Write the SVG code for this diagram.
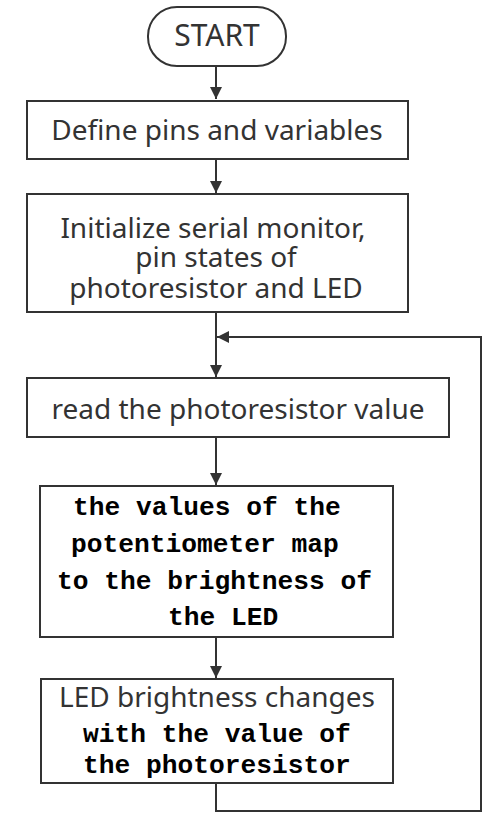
<svg xmlns="http://www.w3.org/2000/svg" width="498" height="826" viewBox="0 0 498 826">
<style>
.box{fill:#fff;stroke:#333;stroke-width:2}
.sans{font-family:"Noto Sans","Open Sans",sans-serif;font-size:28px;fill:#333}
.mono{font-family:"Liberation Mono","DejaVu Sans Mono",monospace;font-size:26.25px;font-weight:bold;fill:#000}
.c{text-anchor:middle}
.edge{fill:none;stroke:#333;stroke-width:2}
</style>
<defs>
<marker id="arr" viewBox="0 0 10 10" refX="10" refY="5" markerWidth="6" markerHeight="6" markerUnits="strokeWidth" orient="auto">
<path d="M0,0 L10,5 L0,10 z" fill="#333"/>
</marker>
</defs>
<rect width="498" height="826" fill="#fff"/>
<g id="connectors">
<path class="edge" d="M216,66 V99" marker-end="url(#arr)"/>
<path class="edge" d="M216,159 V193" marker-end="url(#arr)"/>
<path class="edge" d="M216,312 V377" marker-end="url(#arr)"/>
<path class="edge" d="M216,437 V485" marker-end="url(#arr)"/>
<path class="edge" d="M216,637 V678" marker-end="url(#arr)"/>
<path class="edge" d="M216,783 V811 H481 V337 H217" marker-end="url(#arr)"/>
</g>
<g id="start">
<rect class="box" x="148" y="7" width="138" height="59" rx="29" ry="29"/>
<text class="sans c" x="217" y="46" style="font-size:30px">START</text>
</g>
<g id="define">
<rect class="box" x="27" y="101" width="381" height="58"/>
<text class="sans c" x="217" y="140">Define pins and variables</text>
</g>
<g id="init">
<rect class="box" x="27" y="194" width="381" height="118"/>
<text class="sans c" x="213" y="238">Initialize serial monitor,</text>
<text class="sans c" x="216" y="267">pin states of</text>
<text class="sans c" x="216" y="298">photoresistor and LED</text>
</g>
<g id="read">
<rect class="box" x="27" y="378" width="422" height="59"/>
<text class="sans c" x="238" y="419">read the photoresistor value</text>
</g>
<g id="map">
<rect class="box" x="40" y="486" width="353" height="151"/>
<text class="mono" x="73" y="515">the values of the</text>
<text class="mono" x="71" y="552">potentiometer map</text>
<text class="mono" x="57" y="589">to the brightness of</text>
<text class="mono" x="168" y="625">the LED</text>
</g>
<g id="led">
<rect class="box" x="41" y="679" width="352" height="104"/>
<text class="sans c" x="217" y="707">LED brightness changes</text>
<text class="mono" x="83" y="742">with the value of</text>
<text class="mono" x="83" y="773">the photoresistor</text>
</g>
</svg>
